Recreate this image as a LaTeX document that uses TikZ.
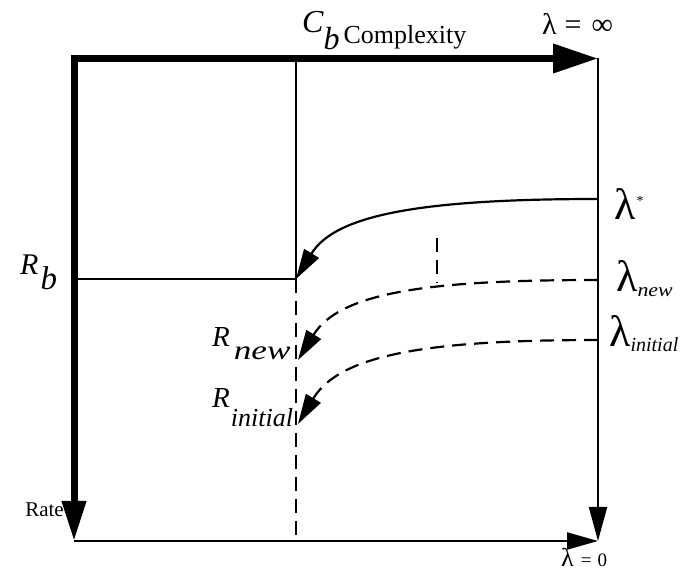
\documentclass[tikz,border=0pt]{standalone}
\usepackage{fontspec}
\setmainfont{Liberation Serif}
\usetikzlibrary{arrows.meta}
\newcommand{\fsz}[1]{\fontsize{#1}{#1}\selectfont}
\begin{document}
\begin{tikzpicture}[x=1pt,y=-1pt,
  thickax/.style={line width=7pt},
  thinln/.style={line width=2.2pt},
  dashln/.style={line width=2.2pt,dash pattern=on 14pt off 8pt},
  curvearrow/.style={line width=2.2pt,-{Triangle[length=30pt,width=17pt]}},
  lbl/.style={inner sep=0pt}]
\useasboundingbox (0,0) rectangle (681,585);
\coordinate (TL) at (74,58.5);
\coordinate (TLx) at (70.5,58.5);
\coordinate (TR) at (598,58.5);
\coordinate (BL) at (74,541);
\coordinate (BR) at (598,541);
\coordinate (MT) at (296,58.5);
\coordinate (MB) at (296,541);
\coordinate (Rb) at (296,279);
\coordinate (LRb) at (74,279);
\coordinate (Rnew) at (298,360);
\coordinate (Rini) at (298,424);
\coordinate (Ls) at (598,199);
\coordinate (Lnew) at (598,280);
\coordinate (Lini) at (598,340);
\coordinate (tickT) at (437,238);
\coordinate (tickB) at (437,283);
% axes
\draw[thickax,-{Triangle[length=45pt,width=28pt]}] (TLx) -- (TR);
\draw[thickax,-{Triangle[length=40pt,width=23pt]}] (TL) -- (BL);
\draw[thinln,-{Triangle[length=31pt,width=17pt]}] (BL) -- (BR);
\draw[thinln,-{Triangle[length=34pt,width=18pt]}] (TR) -- (BR);
% inner lines
\draw[thinln] (MT) -- (Rb);
\draw[thinln] (LRb) -- (Rb);
\draw[dashln] (Rb) -- (MB);
\draw[dashln] (tickT) -- (tickB);
% curves
\draw[curvearrow] (Ls) .. controls (420,199) and (335,215) .. (Rb);
\draw[curvearrow,dash pattern=on 14pt off 8pt] (Lnew) .. controls (430,280) and (340,292) .. (Rnew);
\draw[curvearrow,dash pattern=on 14pt off 8pt] (Lini) .. controls (430,340) and (340,354) .. (Rini);
% labels
\node[lbl,anchor=base west] (cb) at (302,33) {\fsz{32}\itshape C\hspace{0pt}\raisebox{-17pt}{b}\hspace{4pt}\fsz{26}\upshape\raisebox{-11pt}{Complexity}};
\node[lbl,anchor=base west] (linf) at (542,35) {\fsz{30}λ\hspace{8pt}=\hspace{10pt}∞};
\node[lbl,anchor=base west] (lstar) at (614,220) {\fsz{44}λ\hspace{1pt}\raisebox{14pt}{\fsz{14}*}};
\node[lbl,anchor=base west] (lnew) at (616,292) {\fsz{44}λ\raisebox{-5pt}{\fsz{19}\itshape\scalebox{1.15}[1]{new}}};
\node[lbl,anchor=base west] (lini) at (609,347) {\fsz{44}λ\raisebox{-5pt}{\fsz{20}\itshape initial}};
\node[lbl,anchor=base west] (rb) at (20,275) {\fsz{30}\itshape R\hspace{2pt}\raisebox{-15pt}{\fsz{33}b}};
\node[lbl,anchor=base west] (rnew) at (212,347) {\fsz{29}\itshape R\hspace{4pt}\raisebox{-13pt}{\fsz{27}\scalebox{1.3}[1]{new}}};
\node[lbl,anchor=base west] (rini) at (212,408) {\fsz{29}\itshape R\hspace{1pt}\raisebox{-19pt}{\fsz{26}initial}};
\node[lbl,anchor=base east] (rate) at (64,517) {\fsz{21}Rate};
\node[lbl,anchor=base west] (lzero) at (561,567) {\fsz{26}λ\hspace{7pt}{\fsz{19}=\hspace{6pt}0}};
\end{tikzpicture}
\end{document}
